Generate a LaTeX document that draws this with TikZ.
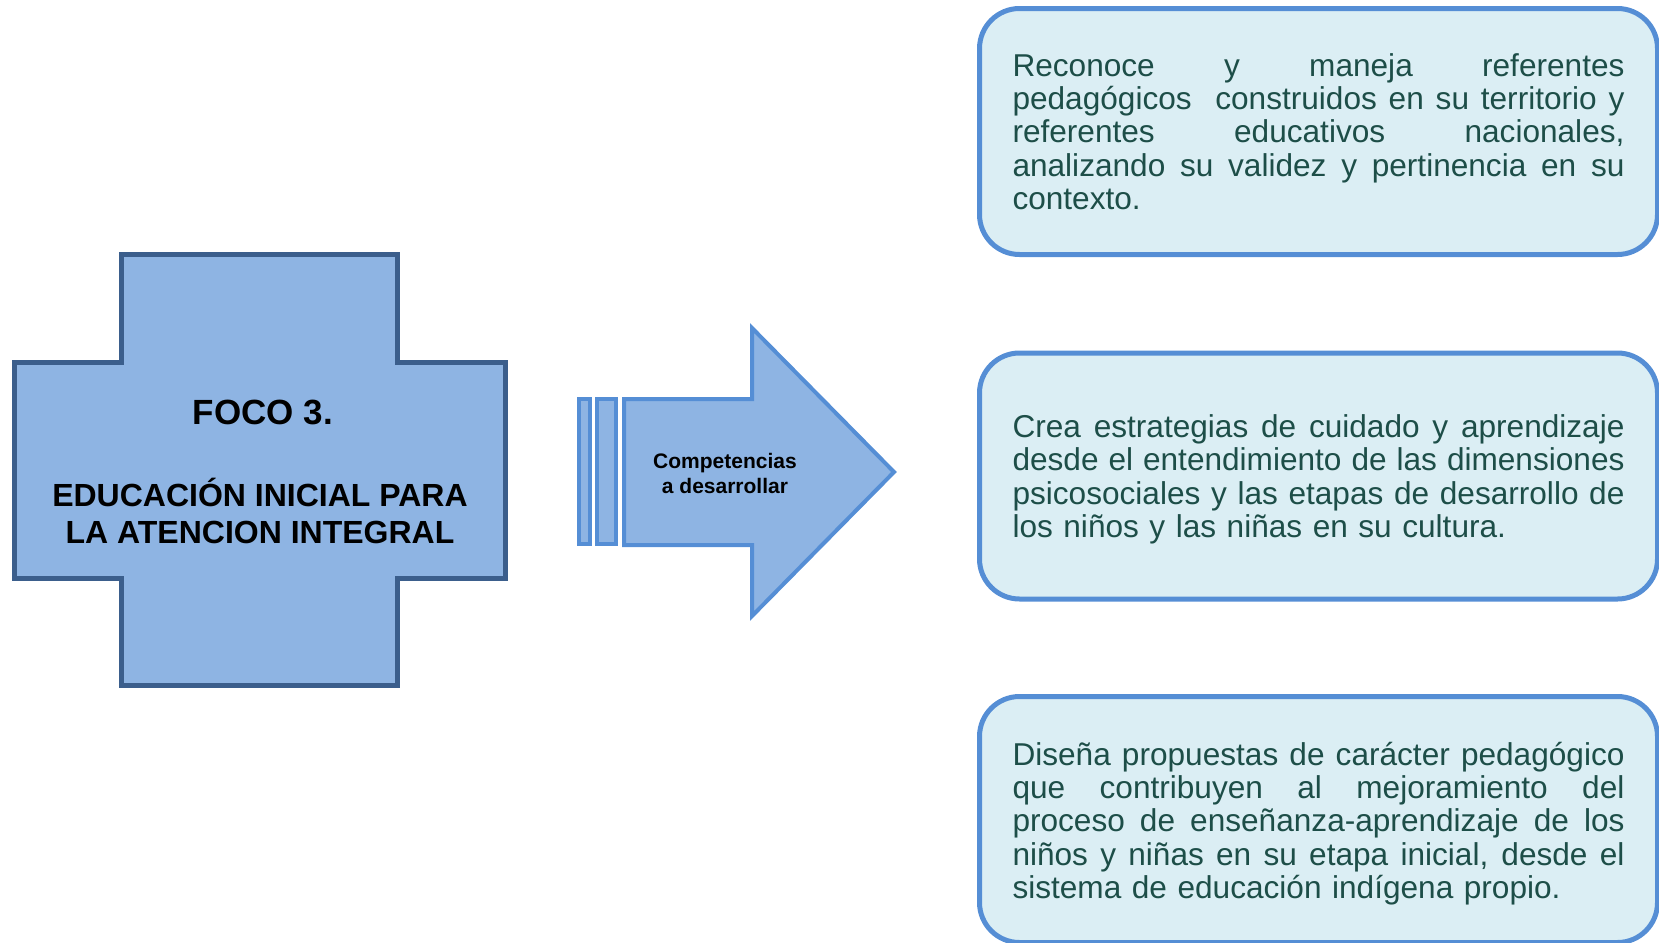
\documentclass[tikz,border=0pt]{standalone}
\usepackage{fontspec}
\setmainfont{Liberation Sans}
\usepackage{tikz}
\usetikzlibrary{calc,positioning}

\definecolor{cruzfill}{HTML}{8EB4E3}
\definecolor{cruzline}{HTML}{3B5E8C}
\definecolor{flecha}{HTML}{558ED5}
\definecolor{cajafill}{HTML}{DBEEF4}
\definecolor{textoverde}{HTML}{1D4E48}

\newcommand{\jline}[2][0pt]{\noindent\rule{0pt}{#1}\hbox to 306pt{\spaceskip=.28em plus 1fil\relax #2}\\}

\tikzset{
	competencia/.style={draw=flecha,fill=cajafill,line width=2.5pt,rounded corners=20pt,
		minimum width=339pt,minimum height=123pt,text width=306pt,align=left,
		text=textoverde,font=\fontsize{15.8}{16.65}\selectfont},
	titulo/.style={align=center,font=\bfseries\fontsize{16}{18.5}\selectfont}
}

\begin{document}
\begin{tikzpicture}[x=0.5pt,y=-0.5pt]
		\useasboundingbox (0,0) rectangle (1659,942);
		% cruz
		\draw [cruzline,fill=cruzfill,line width=2.5pt]
			(121.5,254) -- (397,254) -- (397,362) -- (505,362) -- (505,578) -- (397,578)
			-- (397,685) -- (121.5,685) -- (121.5,578) -- (14,578) -- (14,362) -- (121.5,362) -- cycle;
		\node(foco) [font=\bfseries\fontsize{17.5}{20}\selectfont] at (263,412) {FOCO 3.};
		\node(titulo) [titulo] at (260,511) {EDUCACIÓN INICIAL PARA\\LA ATENCION INTEGRAL};
		% flecha
		\begin{scope}[flecha,fill=cruzfill,line width=2pt]
			\filldraw (579,399) rectangle (590,544);
			\filldraw (597,399) rectangle (616,544);
			\filldraw (624,399) -- (752,399) -- (752,328) -- (894,472) -- (752,616)
				-- (752,545) -- (624,545) -- cycle;
		\end{scope}
		\node(comp) [align=center,font=\bfseries\fontsize{10.5}{12.5}\selectfont] at (725,473)
			{Competencias\\a desarrollar};
		% competencias
		\node(c1) [competencia] at (1318.5,131.5) {%
			\jline{Reconoce y maneja referentes}
			\jline{pedagógicos\ \ construidos en su territorio y}
			\jline{referentes educativos nacionales,}
			\jline{analizando su validez y pertinencia en su}
			contexto.};
		\node(c2) [competencia] at (1318.5,476) {%
			\jline[14.7pt]{Crea estrategias de cuidado y aprendizaje}
			\jline{desde el entendimiento de las dimensiones}
			\jline{psicosociales y las etapas de desarrollo de}
			los niños y las niñas en su cultura.};
		\node(c3) [competencia] at (1318.5,819.5) {%
			\jline[15.6pt]{Diseña propuestas de carácter pedagógico}
			\jline{que contribuyen al mejoramiento del}
			\jline{proceso de enseñanza-aprendizaje de los}
			\jline{niños y niñas en su etapa inicial, desde el}
			sistema de educación indígena propio.};
	\end{tikzpicture}
\end{document}
